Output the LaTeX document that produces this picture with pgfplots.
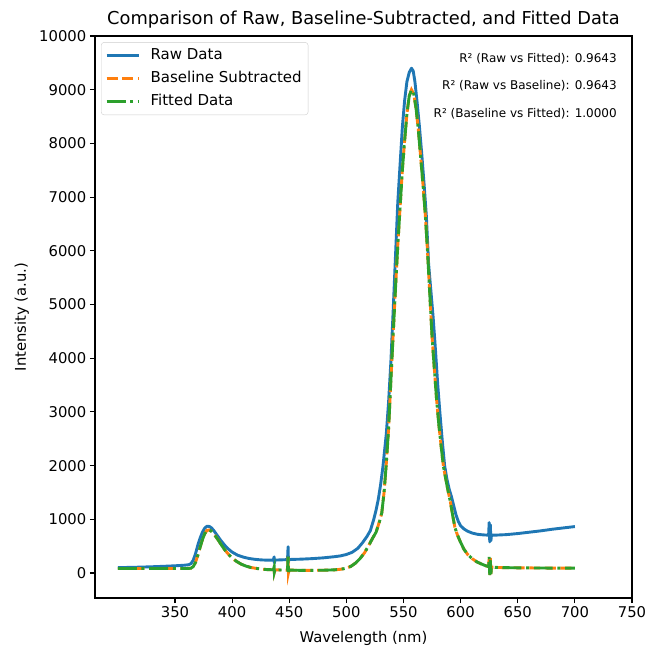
\documentclass[border=0pt]{standalone}
\usepackage{fontspec}
\setmainfont{DejaVu Sans}
\usepackage{pgfplots}
\pgfplotsset{compat=1.18}
\definecolor{mplblue}{HTML}{1F77B4}
\definecolor{mplorange}{HTML}{FF7F0E}
\definecolor{mplgreen}{HTML}{2CA02C}
\begin{document}
\begin{tikzpicture}
\begin{axis}[name=ax, scale only axis, width=537bp, height=562bp,
  xmin=280, xmax=750, ymin=-465, ymax=10000,
  xtick={350,400,...,750}, ytick={0,1000,...,10000},
  scaled y ticks=false, scaled x ticks=false,
  /pgf/number format/.cd, set thousands separator={}, assume math mode=true, /pgfplots/.cd,
  axis line style={line width=1.1bp},
  tick style={line width=1.1bp, black},
  tick align=outside, major tick length=5.2bp,
  xtick pos=bottom, ytick pos=left,
  tick label style={font=\fontsize{14.8bp}{17bp}\selectfont},
  title={Comparison of Raw, Baseline-Subtracted, and Fitted Data},
  title style={at={(axis description cs:0.5,1.0098)}, anchor=base, font=\fontsize{17.8bp}{20bp}\selectfont, inner sep=0pt},
  xlabel={Wavelength (nm)},
  xlabel style={at={(axis description cs:0.5,-0.0783)}, anchor=base, font=\fontsize{14.8bp}{17bp}\selectfont, inner sep=0pt},
  ylabel={Intensity (a.u.)},
  ylabel style={at={(axis description cs:-0.1285,0.5)}, anchor=base, font=\fontsize{14.8bp}{17bp}\selectfont, inner sep=0pt},
  legend cell align=left,
  legend image code/.code={\draw[#1] (0bp,0bp) -- (32bp,0bp);},
  legend style={at={(axis description cs:0.0112,0.989)}, anchor=north west,
    draw=black!20, rounded corners=3bp, fill=white, fill opacity=0.8, text opacity=1,
    font=\fontsize{15bp}{17bp}\selectfont, inner xsep=4bp, inner ysep=3.5bp,
    nodes={inner sep=2.5bp, text height=11bp, text depth=3.5bp}, row sep=3.5bp, column sep=8bp},
]
\addplot[mplblue, line width=2.9bp, line join=round] coordinates {
(300,100)(310,105)(320,110)(330,117)(340,125)(350,135)(358,145)(362,155)(364,175)(366,240)(368,360)(370,520)(372,650)(374,760)(376,835)(378,872)(380,868)(382,840)(384,790)(387,700)(390,610)(393,530)(396,460)(400,390)(405,330)(410,295)(415,270)(420,255)(425,245)(430,240)(436,240)(436.8,300)(437,185)(437.5,242)(440,243)(445,247)(448.5,250)(449,490)(449.3,205)(449.8,252)(455,255)(460,258)(470,268)(480,283)(490,305)(495,320)(500,345)(505,385)(510,460)(514,560)(518,680)(521,790)(524,1000)(526,1170)(528,1380)(530,1650)(532,1980)(535,2600)(537,3200)(539,3950)(541,4900)(543,5900)(545,6900)(547,7600)(549,8300)(551,8800)(553,9150)(555,9320)(557,9400)(558.5,9350)(560,9150)(562,8750)(564,8300)(566,7800)(568,7250)(570,6650)(572,5750)(574,5250)(576,4750)(578,4150)(580,3500)(582,2950)(584,2450)(586,2000)(588,1750)(590,1560)(592,1420)(594,1250)(596,1080)(598,960)(600,880)(603,820)(606,780)(610,745)(615,720)(620,710)(624.5,705)(625,940)(625.5,580)(626,900)(626.5,600)(627,705)(630,705)(640,715)(650,735)(660,760)(670,785)(680,815)(690,840)(700,865)
};
\addlegendentry{Raw Data}
\addplot[mplorange, line width=2.9bp, dash pattern=on 10.9bp off 4.7bp] coordinates {
(300,85)(320,85)(340,84)(360,84)(364,90)(366,120)(368,200)(370,330)(372,480)(374,620)(376,730)(378,795)(380,800)(382,775)(385,700)(388,610)(391,510)(394,420)(397,345)(400,280)(404,215)(408,165)(412,130)(416,105)(420,90)(425,75)(430,65)(436,60)(436.8,115)(437,20)(437.5,60)(440,58)(445,55)(448.5,55)(449,305)(449.3,5)(449.8,55)(455,52)(460,50)(470,50)(480,52)(490,60)(495,70)(500,90)(504,125)(508,185)(512,270)(516,380)(520,530)(523,650)(526,760)(529,960)(531,1120)(533,1500)(535,2050)(537,2700)(539,3600)(541,4460)(543,5300)(545,6100)(547,6800)(549,7500)(551,8050)(553,8550)(555,8880)(557,9000)(559,8920)(561,8650)(563,8250)(565,7750)(567,7250)(569,6700)(571,6000)(573,5200)(575,4400)(577,3800)(579,3220)(581,2750)(583,2350)(585,1980)(587,1750)(589,1530)(591,1330)(593,1080)(595,850)(597,720)(600,570)(603,440)(606,350)(610,270)(614,210)(618,170)(622,135)(624.5,120)(625,300)(625.5,-40)(626,280)(626.5,-20)(627,110)(630,105)(640,100)(650,97)(660,95)(680,92)(700,90)
};
\addlegendentry{Baseline Subtracted}
\addplot[mplgreen, line width=2.9bp, dash pattern=on 18.9bp off 4.7bp on 3bp off 4.7bp] coordinates {
(300,85)(320,85)(340,84)(360,84)(364,90)(366,120)(368,200)(370,330)(372,480)(374,620)(376,730)(378,795)(380,800)(382,775)(385,700)(388,610)(391,510)(394,420)(397,345)(400,280)(404,215)(408,165)(412,130)(416,105)(420,90)(425,75)(430,65)(436,60)(436.8,115)(437,20)(437.5,60)(440,58)(445,55)(448.5,55)(449,305)(449.3,5)(449.8,55)(455,52)(460,50)(470,50)(480,52)(490,60)(495,70)(500,90)(504,125)(508,185)(512,270)(516,380)(520,530)(523,650)(526,760)(529,960)(531,1120)(533,1500)(535,2050)(537,2700)(539,3600)(541,4460)(543,5300)(545,6100)(547,6800)(549,7500)(551,8050)(553,8550)(555,8880)(557,9000)(559,8920)(561,8650)(563,8250)(565,7750)(567,7250)(569,6700)(571,6000)(573,5200)(575,4400)(577,3800)(579,3220)(581,2750)(583,2350)(585,1980)(587,1750)(589,1530)(591,1330)(593,1080)(595,850)(597,720)(600,570)(603,440)(606,350)(610,270)(614,210)(618,170)(622,135)(624.5,120)(625,300)(625.5,-40)(626,280)(626.5,-20)(627,110)(630,105)(640,100)(650,97)(660,95)(680,92)(700,90)
};
\addlegendentry{Fitted Data}
\node[anchor=east, font=\fontsize{12bp}{14bp}\selectfont, inner sep=0pt] at (rel axis cs:0.972,0.959) {R² (Raw vs Fitted): 0.9643};
\node[anchor=east, font=\fontsize{12bp}{14bp}\selectfont, inner sep=0pt] at (rel axis cs:0.972,0.911) {R² (Raw vs Baseline): 0.9643};
\node[anchor=east, font=\fontsize{12bp}{14bp}\selectfont, inner sep=0pt] at (rel axis cs:0.972,0.861) {R² (Baseline vs Fitted): 1.0000};
\end{axis}
\pgfresetboundingbox
\path[use as bounding box] ([shift={(-95bp,-48bp)}]ax.south west) rectangle ([shift={(17bp,36bp)}]ax.north east);
\end{tikzpicture}
\end{document}
